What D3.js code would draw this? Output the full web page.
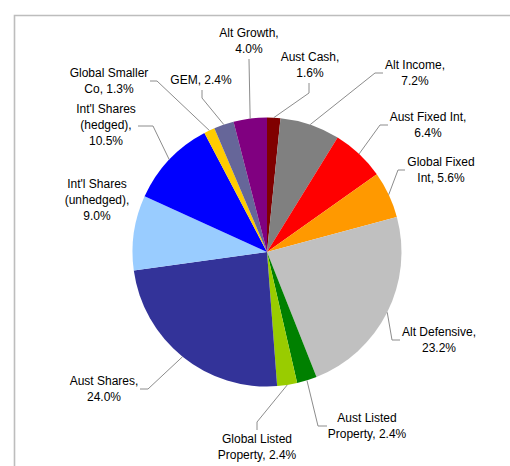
<!DOCTYPE html>
<html>
<head>
<meta charset="utf-8">
<script src="https://cdn.jsdelivr.net/npm/d3@7"></script>
<style>
  html, body { margin: 0; padding: 0; background: #fff; }
  svg { display: block; }
  text { font-family: "Liberation Sans", Arial, sans-serif; font-size: 12px; fill: #000; }
</style>
</head>
<body>
<svg id="chart" width="510" height="466"></svg>
<script>
// data, clockwise from 12 o'clock
const categories = ['Aust Cash', 'Alt Income', 'Aust Fixed Int', 'Global Fixed Int', 'Alt Defensive',
    'Aust Listed Property', 'Global Listed Property', 'Aust Shares', "Int'l Shares (unhedged)",
    "Int'l Shares (hedged)", 'Global Smaller Co', 'GEM', 'Alt Growth']
const values = [1.6, 7.2, 6.4, 5.6, 23.2, 2.4, 2.4, 24.0, 9.0, 10.5, 1.3, 2.4, 4.0]
const colors = ['#800000', '#808080', '#ff0000', '#ff9900', '#c0c0c0', '#008000', '#99cc00',
    '#333399', '#99ccff', '#0000ff', '#ffcc00', '#666699', '#800080']

// words per label line
const wraps = [[2, 1], [2, 1], [3, 1], [2, 2], [2, 1], [2, 2], [2, 2], [2, 1], [2, 1, 1], [2, 1, 1], [2, 2], [2], [2, 1]]

// label layout: centre of first line, elbow and end of leader (null = no leader)
const labelPos = [
    {x: 310, y: 57, elbow: [309, 93], end: [309, 83]},
    {x: 415, y: 65, elbow: [375, 73], end: [383, 73]},
    {x: 428, y: 117, elbow: [380, 125], end: [388, 125]},
    {x: 441, y: 162, elbow: [398, 170], end: [405, 170]},
    {x: 439, y: 332, elbow: [392, 340], end: [400, 340]},
    {x: 367, y: 418, elbow: [318, 426], end: [327, 426]},
    {x: 257, y: 439, elbow: [257, 422], end: [257, 430]},
    {x: 104, y: 381, elbow: [148, 389], end: [140, 389]},
    {x: 97, y: 184, elbow: null, end: null},
    {x: 106, y: 109, elbow: [153, 126], end: [138, 126]},
    {x: 109, y: 73, elbow: [157, 81], end: [150, 81]},
    {x: 201, y: 80, elbow: [202, 98], end: [202, 90]},
    {x: 249, y: 33, elbow: [249, 60], end: [249, 59]}
]

const svg = d3.select('#chart')
const cx = 267, cy = 252, r = 134.5
const lineH = 15.7
const fmt = d3.format('.1f')

// plot area frame (only top and left edges visible)
svg.append('path')
    .attr('d', 'M14.5,466V15.5H510')
    .attr('fill', 'none')
    .attr('stroke', '#bdbdbd')
    .attr('stroke-width', 1.6)

const data = categories.map((name, i) => ({name, value: values[i], color: colors[i], wrap: wraps[i], pos: labelPos[i]}))

const pie = d3.pie().sort(null).value(d => d.value)
const arcs = pie(data)
const arc = d3.arc().innerRadius(0).outerRadius(r)
const edge = d3.arc().innerRadius(r).outerRadius(r)

const g = svg.append('g').attr('transform', `translate(${cx},${cy})`)

g.selectAll('path.slice')
    .data(arcs)
    .join('path')
    .attr('class', 'slice')
    .attr('d', arc)
    .attr('fill', d => d.data.color)

// leader lines
const leader = d3.line()
svg.selectAll('path.leader')
    .data(arcs.filter(d => d.data.pos.elbow))
    .join('path')
    .attr('class', 'leader')
    .attr('d', d => {
        const c = edge.centroid(d)
        return leader([[cx + c[0], cy + c[1]], d.data.pos.elbow, d.data.pos.end])
    })
    .attr('fill', 'none')
    .attr('stroke', '#8c8c8c')
    .attr('stroke-width', 1)

// labels
const labels = svg.selectAll('text.label')
    .data(data)
    .join('text')
    .attr('class', 'label')
    .attr('text-anchor', 'middle')

labels.each(function(d) {
    const words = `${d.name}, ${fmt(d.value)}%`.split(' ')
    let k = 0
    const lines = d.wrap.map(n => {
        const s = words.slice(k, k + n).join(' ')
        k += n
        return s
    })
    d3.select(this).selectAll('tspan')
        .data(lines)
        .join('tspan')
        .attr('x', d.pos.x)
        .attr('y', (s, i) => d.pos.y + i * lineH + 4.3)
        .text(s => s)
})
</script>
</body>
</html>
